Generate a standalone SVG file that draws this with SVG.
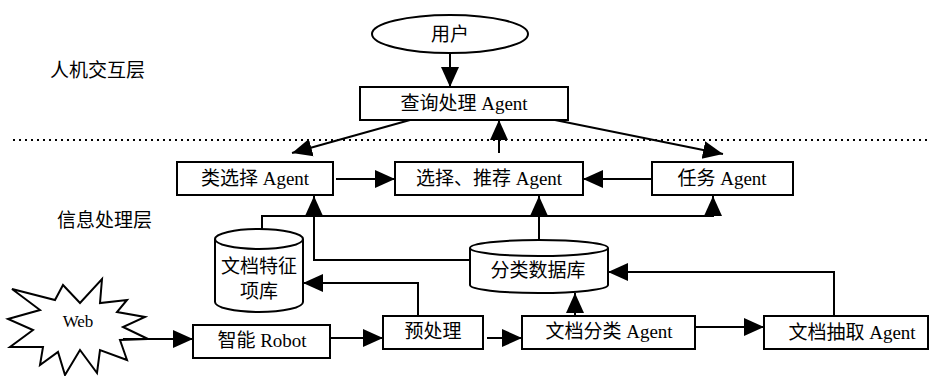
<svg xmlns="http://www.w3.org/2000/svg" width="930" height="376" viewBox="0 0 930 376">
  <style>
    .box { fill: #fff; stroke: #000; stroke-width: 2; }
    .db { fill: #fff; stroke: #000; stroke-width: 2; }
    .lbl { font-family: "Liberation Serif", "Noto Sans CJK SC", serif; font-size: 19px; fill: #000; text-anchor: middle; }
    .layer { font-family: "Noto Sans CJK SC", "Liberation Sans", sans-serif; font-size: 19px; fill: #000; }
    .link { fill: none; stroke: #000; stroke-width: 2; }
    .arr { marker-end: url(#head); }
    .sep { fill: none; stroke: #000; stroke-width: 2; stroke-dasharray: 2 4; }
  </style>
  <defs>
    <marker id="head" markerUnits="userSpaceOnUse" markerWidth="20" markerHeight="20" viewBox="0 0 20 20" refX="20" refY="10" orient="auto">
      <path d="M0,1 L20,10 L0,19 Z" fill="#000"/>
    </marker>
  </defs>
  <rect width="930" height="376" fill="#fff"/>

  <!-- layer labels and separator -->
  <text class="layer" x="50" y="77">人机交互层</text>
  <text class="layer" x="57" y="227">信息处理层</text>
  <line class="sep" x1="13" y1="140" x2="930" y2="140"/>

  <!-- nodes -->
  <g id="user">
    <ellipse class="box" cx="450" cy="34" rx="78" ry="19"/>
    <text class="lbl" x="450" y="41">用户</text>
  </g>
  <g id="query">
    <rect class="box" x="360" y="87" width="208" height="33"/>
    <text class="lbl" x="464" y="110">查询处理 Agent</text>
  </g>
  <g id="class-select">
    <rect class="box" x="177" y="162" width="156" height="33"/>
    <text class="lbl" x="255" y="185">类选择 Agent</text>
  </g>
  <g id="recommend">
    <rect class="box" x="395" y="162" width="188" height="33"/>
    <text class="lbl" x="489" y="185">选择、推荐 Agent</text>
  </g>
  <g id="task">
    <rect class="box" x="652" y="162" width="141" height="33"/>
    <text class="lbl" x="722" y="185">任务 Agent</text>
  </g>
  <g id="feature-db">
    <path class="db" d="M215,239 L215,302 A44,10 0 0 0 303,302 L303,239"/>
    <ellipse class="db" cx="259" cy="239" rx="44" ry="10"/>
    <text class="lbl" x="259" y="273">文档特征</text>
    <text class="lbl" x="259" y="298">项库</text>
  </g>
  <g id="class-db">
    <path class="db" d="M470,248 L470,285 A69,8 0 0 0 608,285 L608,248"/>
    <ellipse class="db" cx="539" cy="248" rx="69" ry="8"/>
    <text class="lbl" x="538" y="277">分类数据库</text>
  </g>
  <g id="web">
    <polygon class="box" points="12,289 55,300 63,285 80,303 102,279 100,303 127,300 117,312 145,317 123,327 148,339 120,340 127,360 100,350 97,373 80,350 65,375 58,352 40,365 43,347 10,347 33,330 8,319 40,310"/>
    <text class="lbl" x="78" y="327" style="font-size:17px">Web</text>
  </g>
  <g id="robot">
    <rect class="box" x="193" y="325" width="137" height="33"/>
    <text class="lbl" x="262" y="347">智能 Robot</text>
  </g>
  <g id="preprocess">
    <rect class="box" x="383" y="316" width="100" height="33"/>
    <text class="lbl" x="433" y="338">预处理</text>
  </g>
  <g id="doc-class">
    <rect class="box" x="522" y="316" width="173" height="33"/>
    <text class="lbl" x="609" y="338">文档分类 Agent</text>
  </g>
  <g id="doc-extract">
    <rect class="box" x="764" y="316" width="164" height="33"/>
    <text class="lbl" x="852" y="339">文档抽取 Agent</text>
  </g>

  <!-- connectors -->
  <g id="connectors">
    <line class="link arr" x1="450" y1="53" x2="450" y2="87"/>
    <line class="link arr" x1="410" y1="120" x2="292" y2="153"/>
    <line class="link arr" x1="555" y1="120" x2="723" y2="154"/>
    <line class="link arr" x1="499" y1="153" x2="499" y2="120"/>
    <line class="link arr" x1="336" y1="179" x2="395" y2="179"/>
    <line class="link arr" x1="652" y1="179" x2="583" y2="179"/>
    <polyline class="link arr" points="262,229 262,216 713,216 713,196"/>
    <line class="link arr" x1="539" y1="240" x2="539" y2="196"/>
    <polyline class="link arr" points="470,260 314,260 314,196"/>
    <line class="link arr" x1="123" y1="339" x2="193" y2="339"/>
    <line class="link arr" x1="330" y1="338" x2="383" y2="338"/>
    <line class="link arr" x1="487" y1="338" x2="522" y2="338"/>
    <line class="link arr" x1="695" y1="327" x2="764" y2="327"/>
    <line class="link arr" x1="575" y1="316" x2="575" y2="293"/>
    <polyline class="link arr" points="834,316 834,272 608,272"/>
    <polyline class="link arr" points="418,316 418,283 303,283"/>
  </g>
</svg>
